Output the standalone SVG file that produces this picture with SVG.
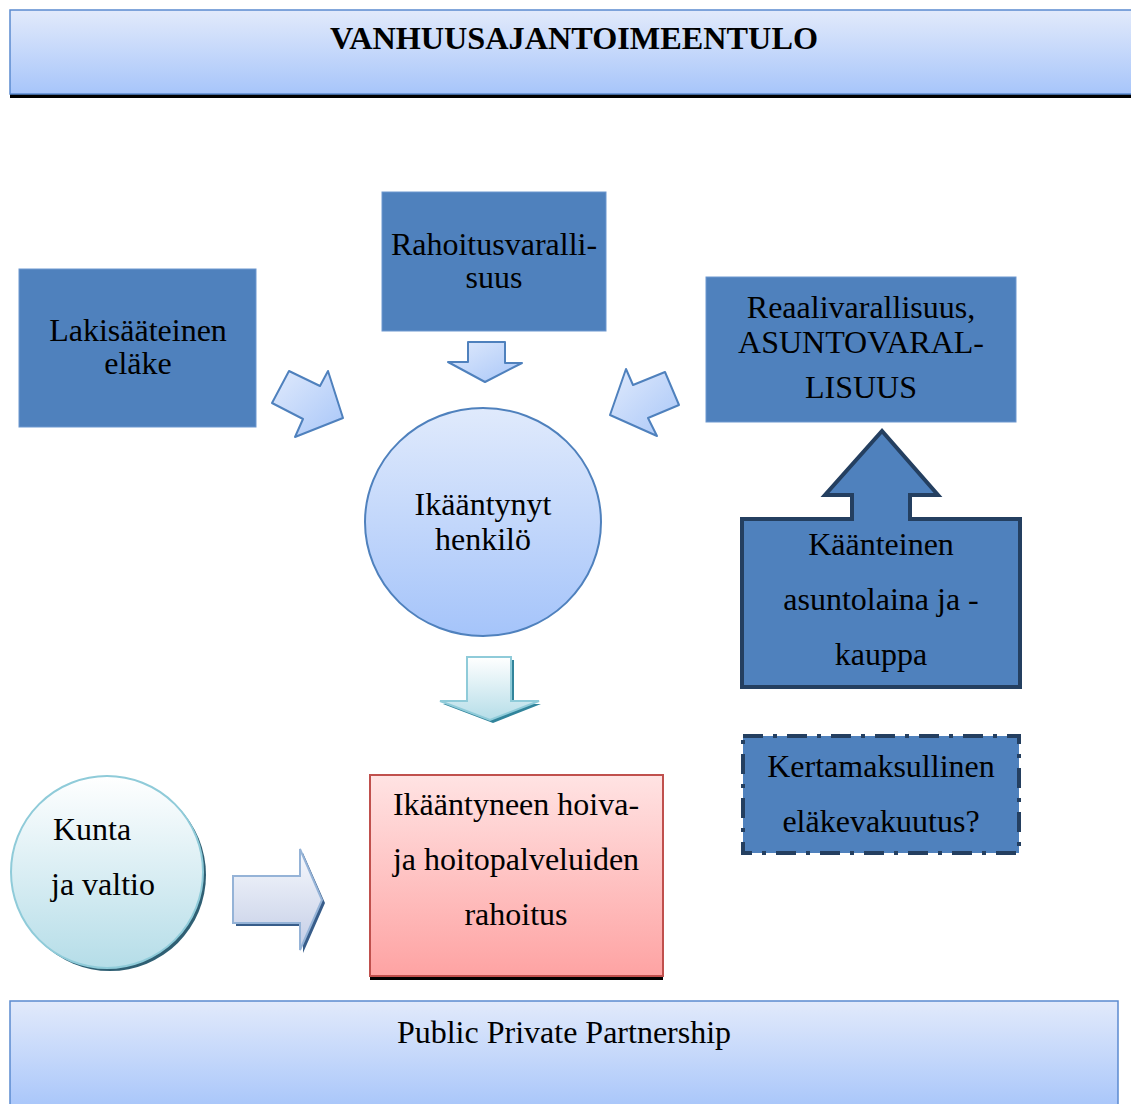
<svg xmlns="http://www.w3.org/2000/svg" width="1131" height="1104" viewBox="0 0 1131 1104">
<defs>
<linearGradient id="gBand" x1="0" y1="0" x2="0" y2="1"><stop offset="0" stop-color="#e2eafb"/><stop offset="1" stop-color="#a7c5fa"/></linearGradient>
<linearGradient id="gCircle" x1="0" y1="0" x2="0" y2="1"><stop offset="0" stop-color="#e0eafc"/><stop offset="1" stop-color="#a5c4fa"/></linearGradient>
<linearGradient id="gSmall" x1="0" y1="0" x2="1" y2="1"><stop offset="0" stop-color="#e0eafc"/><stop offset="1" stop-color="#a8c6f8"/></linearGradient>
<linearGradient id="gTeal" x1="0" y1="0" x2="0" y2="1"><stop offset="0" stop-color="#ffffff"/><stop offset="1" stop-color="#b5dde8"/></linearGradient>
<linearGradient id="gLav" x1="0" y1="0" x2="0" y2="1"><stop offset="0" stop-color="#f7f9fd"/><stop offset="1" stop-color="#c3cde6"/></linearGradient>
<linearGradient id="gPink" x1="0" y1="0" x2="0" y2="1"><stop offset="0" stop-color="#ffe3e3"/><stop offset="1" stop-color="#fea3a3"/></linearGradient>
<style>
text{font-family:"Liberation Serif","Times New Roman",serif;fill:#000;text-anchor:middle}
.t{font-size:32px}
.box{fill:#4f81bd;stroke:#6d97cf;stroke-width:1}
.sa{fill:url(#gSmall);stroke:#4f81bd;stroke-width:2;stroke-linejoin:round}
</style>
</defs>

<g id="header">
<rect x="10" y="94" width="1125" height="4" fill="#000"/>
<rect x="10" y="10" width="1125" height="84" fill="url(#gBand)" stroke="#5b8ad0" stroke-width="1.5"/>
<text x="574" y="49" font-size="31" font-weight="bold" textLength="488" lengthAdjust="spacingAndGlyphs">VANHUUSAJANTOIMEENTULO</text>
</g>

<g id="lakisaateinen">
<rect class="box" x="19" y="269" width="237" height="158"/>
<text class="t" x="138" y="341">Lakisääteinen</text>
<text class="t" x="138" y="374">eläke</text>
</g>

<g id="rahoitusvarallisuus">
<rect class="box" x="382" y="192" width="224" height="139"/>
<text class="t" x="494" y="255">Rahoitusvaralli-</text>
<text class="t" x="494" y="288">suus</text>
</g>

<g id="reaalivarallisuus">
<rect class="box" x="706" y="277" width="310" height="145"/>
<text class="t" x="861" y="318">Reaalivarallisuus,</text>
<text class="t" x="861" y="353">ASUNTOVARAL-</text>
<text class="t" x="861" y="398">LISUUS</text>
</g>

<g id="ikaantynyt">
<ellipse cx="483" cy="522" rx="118" ry="114" fill="url(#gCircle)" stroke="#4f81bd" stroke-width="2"/>
<text class="t" x="483" y="515">Ikääntynyt</text>
<text class="t" x="483" y="550">henkilö</text>
</g>

<g id="kaanteinen">
<polygon points="742,519 852,519 852,495 825,495 882,431 938,495 910,495 910,519 1020,519 1020,687 742,687" fill="#4f81bd" stroke="#243f60" stroke-width="4" stroke-linejoin="miter"/>
<text class="t" x="881" y="555">Käänteinen</text>
<text class="t" x="881" y="610">asuntolaina ja -</text>
<text class="t" x="881" y="665">kauppa</text>
</g>

<g id="kertamaksullinen">
<rect x="743" y="736" width="276" height="117" fill="#4f81bd" stroke="#243f60" stroke-width="4" stroke-dasharray="20 10 4 10"/>
<text class="t" x="881" y="777">Kertamaksullinen</text>
<text class="t" x="881" y="832">eläkevakuutus?</text>
</g>

<g id="kunta">
<circle cx="110" cy="875" r="96" fill="#2f5f73"/>
<circle cx="107" cy="872" r="96" fill="url(#gTeal)" stroke="#8fcbd9" stroke-width="2"/>
<text class="t" x="53" y="840" style="text-anchor:start">Kunta</text>
<text class="t" x="51" y="895" style="text-anchor:start">ja valtio</text>
</g>

<g id="hoiva">
<rect x="370" y="976" width="293" height="4" fill="#000"/>
<rect x="370" y="775" width="293" height="201" fill="url(#gPink)" stroke="#c0504d" stroke-width="2"/>
<text class="t" x="516" y="815">Ikääntyneen hoiva-</text>
<text class="t" x="516" y="870">ja hoitopalveluiden</text>
<text class="t" x="516" y="925">rahoitus</text>
</g>

<g id="footer">
<rect x="10" y="1001" width="1108" height="110" fill="url(#gBand)" stroke="#5b8ad0" stroke-width="1.5"/>
<text class="t" x="564" y="1043">Public Private Partnership</text>
</g>

<g id="connectors">
<polygon class="sa" points="289,371 320,386 328,371 343,418 295,437 303,419 272,403"/>
<polygon class="sa" points="468,342 505,342 505,363 522,363 485,382 448,362 468,362"/>
<polygon class="sa" points="626,369 633,385 665,372 679,405 648,418 657,436 610,415"/>
<polygon points="470,660 514,660 514,704 541,704 493,723 443,704 470,704" fill="#31849b"/>
<polygon points="467,657 511,657 511,701 539,701 490,720 440,701 467,701" fill="url(#gTeal)" stroke="#8fcbd9" stroke-width="2" stroke-linejoin="miter"/>
<polygon points="236,879 303,879 303,853 325,903 303,953 303,926 236,926" fill="#385d8a"/>
<polygon points="233,876 300,876 300,849 322,900 300,950 300,923 233,923" fill="url(#gLav)" stroke="#95b3d7" stroke-width="2" stroke-linejoin="miter"/>
</g>
</svg>
